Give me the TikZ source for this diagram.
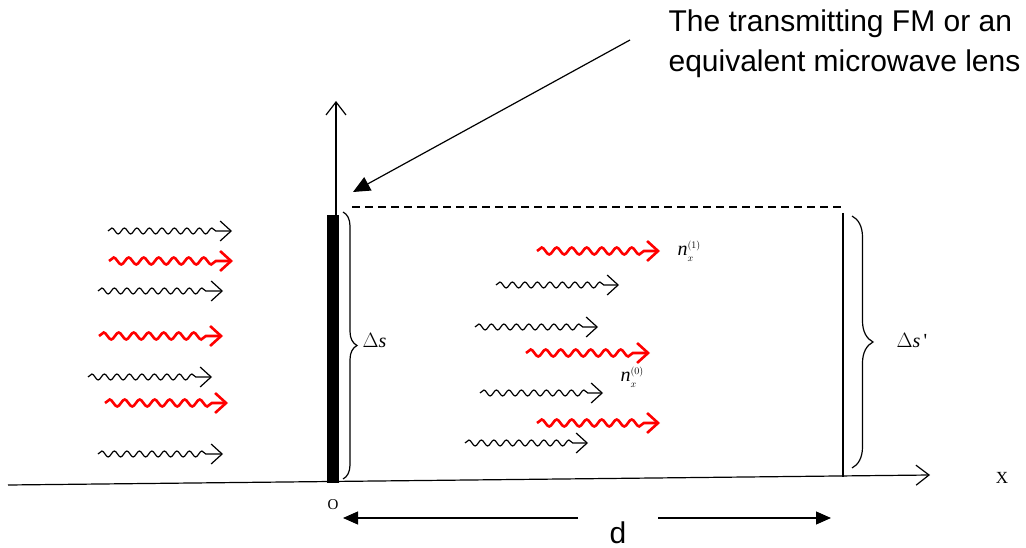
\documentclass[tikz,border=0pt]{standalone}
\usepackage{fontspec}
\setmainfont{Liberation Serif}
\newfontfamily\arialfont{Liberation Sans}
\usetikzlibrary{arrows.meta,decorations.pathmorphing,decorations.pathreplacing}

\begin{document}
\begin{tikzpicture}[
  x=1pt, y=-1pt,
  line width=1.2pt,
  blackwave/.style={
    decorate,
    decoration={snake, amplitude=3pt, segment length=12.5pt, post length=12pt},
    line width=1.2pt,
    -{Straight Barb[length=11pt,width=20pt]}
  },
  redwave/.style={
    decorate,
    decoration={snake, amplitude=3.5pt, segment length=15pt, post length=12pt},
    red, line width=2.6pt,
    -{Straight Barb[length=11pt,width=20pt]}
  },
  axis/.style={-{Straight Barb[length=13pt,width=20pt]}},
  pointer/.style={-{Triangle[length=17pt,width=15pt]}},
  dimline/.style={-{Triangle[length=15pt,width=13pt]}},
  bracket/.style={decorate, decoration={brace, amplitude=#1}},
  every node/.style={inner sep=0pt}
]
\useasboundingbox (0,0) rectangle (1026,548);

% axes and the lens
\coordinate (xstart) at (8,485);
\coordinate (xend) at (930,475);
\coordinate (origin) at (336,483);
\coordinate (ytop) at (336,101);
\draw[axis] (xstart) -- (xend);
\draw[axis] (origin) -- (ytop);
\node (lens) [fill, minimum width=12pt, minimum height=268pt] at (333,349) {};
\node (xlabel) at (1002,478) {\fontsize{17}{17}\selectfont X};
\node (olabel) at (333,505) {\fontsize{15}{15}\selectfont O};

% aperture and screen
\coordinate (dashL) at (352,207);
\coordinate (dashR) at (845,207);
\coordinate (screenT) at (843,213);
\coordinate (screenB) at (843,477);
\draw[dashed, dash pattern=on 8pt off 5pt] (dashL) -- (dashR);
\draw (screenT) -- (screenB);

% braces
\coordinate (braceLt) at (343,212);
\coordinate (braceLb) at (343,479);
\coordinate (braceRt) at (852,216);
\coordinate (braceRb) at (852,468);
\draw[bracket=14pt] (braceLt) -- (braceLb);
\draw[bracket=21pt] (braceRt) -- (braceRb);
\node (ds) [anchor=west] at (362,341) {\fontsize{20}{20}\selectfont $\Delta$\textit{s}};
\node (dsp) [anchor=west] at (896,341) {\fontsize{20}{20}\selectfont $\Delta$\textit{s}\,\textquotesingle};

% caption and pointer
\node (caption) [anchor=north west, align=left,
  font={\arialfont\fontsize{30}{40}\selectfont}] at (668,9)
  {The transmitting FM or an\\ equivalent microwave lens};
\coordinate (ptail) at (630,40);
\coordinate (phead) at (353,192);
\draw[pointer] (ptail) -- (phead);

% distance d
\node (dlabel) at (618,533) {\arialfont\fontsize{30}{30}\selectfont d};
\coordinate (dLtail) at (578,518);
\coordinate (dLhead) at (343,518);
\coordinate (dRtail) at (658,518);
\coordinate (dRhead) at (831,518);
\draw[dimline] (dLtail) -- (dLhead);
\draw[dimline] (dRtail) -- (dRhead);

% incoming waves
\draw[blackwave] (108,231) -- (232,231);
\draw[redwave] (109,261) -- (233,261);
\draw[blackwave] (98,291) -- (223,291);
\draw[redwave] (99,336) -- (223,336);
\draw[blackwave] (88,377) -- (212,377);
\draw[redwave] (105,403) -- (228,403);
\draw[blackwave] (98,454) -- (223,454);

% transmitted waves
\draw[redwave] (537,251) -- (660,251);
\draw[blackwave] (496,285) -- (619,285);
\draw[blackwave] (475,327) -- (598,327);
\draw[redwave] (526,353) -- (650,353);
\draw[blackwave] (480,393) -- (603,393);
\draw[redwave] (537,423) -- (660,423);
\draw[blackwave] (465,443) -- (588,443);
\node (n1) [anchor=west] at (677,251)
  {\fontsize{20}{20}\selectfont $\textit{n}_{\scriptscriptstyle x}^{\scriptscriptstyle (1)}$};
\node (n0) [anchor=west] at (620,377)
  {\fontsize{20}{20}\selectfont $\textit{n}_{\scriptscriptstyle x}^{\scriptscriptstyle (0)}$};
\end{tikzpicture}
\end{document}
